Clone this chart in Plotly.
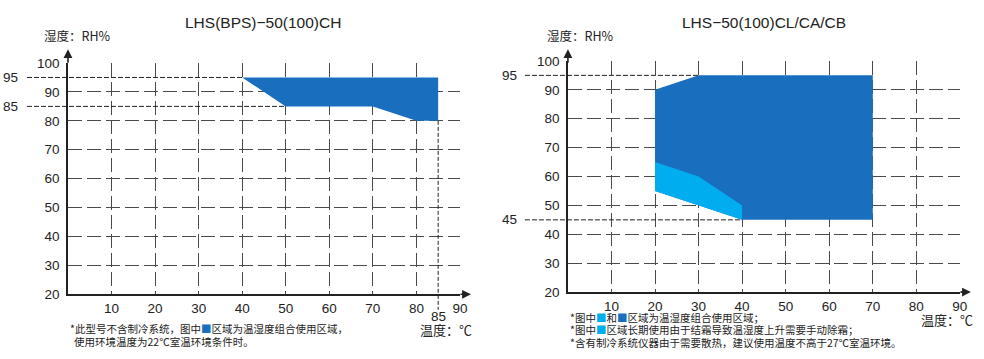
import plotly.graph_objects as go

W, H = 984, 359

# ---------------- data ----------------
x_ticks = [10, 20, 30, 40, 50, 60, 70, 80, 90]
y_ticks = [20, 30, 40, 50, 60, 70, 80, 90, 100]

# LHS(BPS)-50(100)CH operating region
ch_temp = [40, 50, 70, 80, 85, 85]
ch_hum = [95, 85, 85, 80, 80, 95]

# LHS-50(100)CL/CA/CB operating regions
cl_dark_temp = [20, 30, 70, 70, 40, 20]
cl_dark_hum = [90, 95, 95, 45, 45, 55]
cl_light_temp = [20, 30, 40, 40, 20]
cl_light_hum = [65, 60, 50, 45, 55]

left_title = "LHS(BPS)−50(100)CH"
right_title = "LHS−50(100)CL/CA/CB"
y_title = "湿度：RH%"
x_title = "温度：℃"

DARK = "#1a6ebe"
LIGHT = "#00aeef"
GRID = "#4a4a4a"
TXT = "#222222"
LAT = "Liberation Sans, Arial, Noto Sans CJK SC"
CJK = "Noto Sans CJK SC, Liberation Sans"

# target pixel geometry of the two plot areas (as seen in the picture)
L = dict(x0=68, x1=460, y0=63.8, y1=295.5)
R = dict(x0=568, x1=960, y0=61.7, y1=293.3)
XR = [0, 90]
YR = [20, 100]

# the captured page is slightly rescaled; map target picture pixels to layout pixels
SX, SY, OY = 0.992, 0.96, 8.0


def px(xp):
    return (xp / SX) / W


def py(yp):
    return 1 - (yp / SY - OY) / H


def data_x_paper(box, v):
    return px(box["x0"] + (v - XR[0]) / (XR[1] - XR[0]) * (box["x1"] - box["x0"]))


def data_y_pixel(box, v):
    return box["y1"] - (v - YR[0]) / (YR[1] - YR[0]) * (box["y1"] - box["y0"])


fig = go.Figure()

fig.add_trace(go.Scatter(x=ch_temp, y=ch_hum, fill="toself", fillcolor=DARK,
                         mode="lines", line=dict(width=0), xaxis="x", yaxis="y",
                         hoverinfo="skip", showlegend=False))
fig.add_trace(go.Scatter(x=cl_dark_temp, y=cl_dark_hum, fill="toself", fillcolor=DARK,
                         mode="lines", line=dict(width=0), xaxis="x2", yaxis="y2",
                         hoverinfo="skip", showlegend=False))
fig.add_trace(go.Scatter(x=cl_light_temp, y=cl_light_hum, fill="toself", fillcolor=LIGHT,
                         mode="lines", line=dict(width=0), xaxis="x2", yaxis="y2",
                         hoverinfo="skip", showlegend=False))


def xaxis(box, anchor):
    return dict(domain=[px(box["x0"]), px(box["x1"])], range=XR, anchor=anchor,
                tickvals=x_ticks, ticktext=[str(v) for v in x_ticks],
                showgrid=True, gridcolor=GRID, griddash="14px,5px", gridwidth=1.3,
                showline=True, linecolor=TXT, linewidth=1.6, zeroline=False,
                ticks="", ticklabelstandoff=1,
                tickfont=dict(family=LAT, size=13.5, color=TXT), fixedrange=True,
                layer="below traces")


def yaxis(box, anchor):
    return dict(domain=[py(box["y1"]), py(box["y0"])], range=YR, anchor=anchor,
                tickvals=y_ticks, ticktext=[str(v) for v in y_ticks],
                showgrid=True, gridcolor=GRID, griddash="14px,5px", gridwidth=1.3,
                showline=True, linecolor=TXT, linewidth=1.6, zeroline=False,
                ticks="", ticklabelstandoff=4,
                tickfont=dict(family=LAT, size=13.5, color=TXT), fixedrange=True,
                layer="below traces")


shapes = []
annotations = []


def ref_hline(box, yaxis_id, val, x_end, label, start_xp, label_xp):
    shapes.append(dict(type="line", xref="paper", yref=yaxis_id,
                       x0=px(start_xp), x1=data_x_paper(box, x_end), y0=val, y1=val,
                       line=dict(color=TXT, width=1, dash="5px,2px"), layer="above"))
    annotations.append(dict(text=label, xref="paper", yref=yaxis_id, x=px(label_xp), y=val,
                            showarrow=False, xanchor="center", yanchor="middle",
                            font=dict(family=LAT, size=13.5, color=TXT)))


def frame(box, title, ylab_x, title_x):
    annotations.append(dict(text=title, xref="paper", yref="paper", x=px(title_x), y=py(23),
                            showarrow=False, xanchor="center", yanchor="middle",
                            font=dict(family=LAT, size=15.5, color=TXT)))
    annotations.append(dict(text=y_title, xref="paper", yref="paper", x=px(ylab_x), y=py(36.5),
                            showarrow=False, xanchor="left", yanchor="middle",
                            font=dict(family=CJK, size=12.5, color=TXT)))
    # y arrow
    annotations.append(dict(text="", xref="paper", yref="paper", x=px(box["x0"]), y=py(50),
                            ax=0, ay=15, showarrow=True, arrowhead=2, arrowsize=1.1,
                            arrowwidth=1.6, arrowcolor=TXT, standoff=0))
    # x arrow
    annotations.append(dict(text="", xref="paper", yref="paper", x=px(box["x1"] + 11),
                            y=py(box["y1"]), ax=-12, ay=0, showarrow=True, arrowhead=2,
                            arrowsize=1.1, arrowwidth=1.6, arrowcolor=TXT, standoff=0))


frame(L, left_title, 42, 263)
frame(R, right_title, 545, 764)

ref_hline(L, "y", 95, ch_temp[0], "95", 27, 11)
ref_hline(L, "y", 85, ch_temp[1], "85", 27, 11)
ref_hline(R, "y2", 95, cl_dark_temp[1], "95", 525, 510)
ref_hline(R, "y2", 45, cl_dark_temp[4], "45", 525, 510)

# vertical 85 line on left chart
shapes.append(dict(type="line", xref="x", yref="paper", x0=85, x1=85,
                   y0=py(data_y_pixel(L, 80)), y1=py(311),
                   line=dict(color=TXT, width=1, dash="4px,2px"), layer="above"))
annotations.append(dict(text="85", xref="x", yref="paper", x=85, y=py(318), showarrow=False,
                        xanchor="center", yanchor="middle",
                        font=dict(family=LAT, size=13.5, color=TXT)))

# x titles
annotations.append(dict(text=x_title, xref="paper", yref="paper", x=px(446), y=py(330.5),
                        showarrow=False, xanchor="center", yanchor="middle",
                        font=dict(family=CJK, size=13, color=TXT)))
annotations.append(dict(text=x_title, xref="paper", yref="paper", x=px(947), y=py(320.5),
                        showarrow=False, xanchor="center", yanchor="middle",
                        font=dict(family=CJK, size=13, color=TXT)))

sq_d = f"<span style='color:{DARK}'>■</span>"
sq_l = f"<span style='color:{LIGHT}'>■</span>"
notes_left = [
    (68, 329.5, "*此型号不含制冷系统，图中" + sq_d + "区域为温湿度组合使用区域，"),
    (72, 343, "使用环境温度为22℃室温环境条件时。"),
]
notes_right = [
    (568, 318.5, "*图中" + sq_l + "和" + sq_d + "区域为温湿度组合使用区域；"),
    (568, 331, "*图中" + sq_l + "区域长期使用由于结霜导致温湿度上升需要手动除霜；"),
    (568, 344, "*含有制冷系统仪器由于需要散热，建议使用温度不高于27℃室温环境。"),
]
for xp_, yp_, t in notes_left + notes_right:
    annotations.append(dict(text=t, xref="paper", yref="paper", x=px(xp_), y=py(yp_),
                            showarrow=False, xanchor="left", yanchor="middle",
                            font=dict(family=CJK, size=10.5, color=TXT)))

fig.update_layout(
    width=W, height=H, margin=dict(l=0, r=0, t=0, b=0),
    paper_bgcolor="white", plot_bgcolor="white", showlegend=False,
    xaxis=xaxis(L, "y"), yaxis=yaxis(L, "x"),
    xaxis2=xaxis(R, "y2"), yaxis2=yaxis(R, "x2"),
    shapes=shapes, annotations=annotations,
)

fig.write_html("out.html", config={"displayModeBar": False})
